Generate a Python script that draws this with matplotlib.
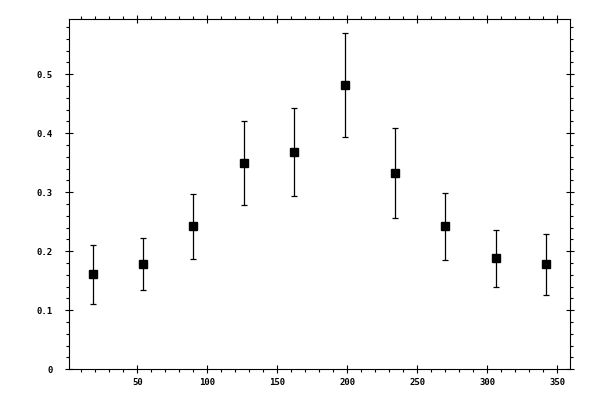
import numpy as np
import matplotlib
matplotlib.use("Agg")
import matplotlib.pyplot as plt
from matplotlib.ticker import MultipleLocator, FuncFormatter

# angle positions and measured values with symmetric errors
angle = [18, 54, 90, 126, 162, 198, 234, 270, 306, 342]
value = [0.161, 0.178, 0.242, 0.349, 0.368, 0.481, 0.332, 0.242, 0.188, 0.178]
error = [0.050, 0.044, 0.055, 0.071, 0.075, 0.088, 0.076, 0.056, 0.048, 0.052]


def main():
    fig = plt.figure(figsize=(6, 4), dpi=100)
    ax = fig.add_axes([69.3 / 600, 30.7 / 400, 501 / 600, 350 / 400])

    ax.errorbar(angle, value, yerr=error, fmt='s', color='black',
                markersize=5.2, elinewidth=0.9, capsize=2.3, capthick=0.9)

    ax.set_xlim(1.4, 359.3)
    ax.set_ylim(0, 0.593)

    ax.xaxis.set_major_locator(MultipleLocator(50))
    ax.xaxis.set_minor_locator(MultipleLocator(10))
    ax.yaxis.set_major_locator(MultipleLocator(0.1))
    ax.yaxis.set_minor_locator(MultipleLocator(0.02))
    ax.yaxis.set_major_formatter(FuncFormatter(lambda v, p: '%g' % round(v, 2)))

    for s in ax.spines.values():
        s.set_linewidth(0.8)

    ax.tick_params(which='both', top=True, right=True, width=0.8,
                   labelsize=6.5, labelfontfamily='DejaVu Sans Mono')
    ax.tick_params(which='major', direction='inout', length=6)
    ax.tick_params(which='minor', direction='out', length=2.5)
    ax.tick_params(axis='y', which='major', pad=9)
    ax.tick_params(axis='x', which='major', pad=3)
    for lab in ax.get_xticklabels() + ax.get_yticklabels():
        lab.set_fontweight('bold')

    fig.savefig('out.png', dpi=100)


if __name__ == "__main__":
    main()
